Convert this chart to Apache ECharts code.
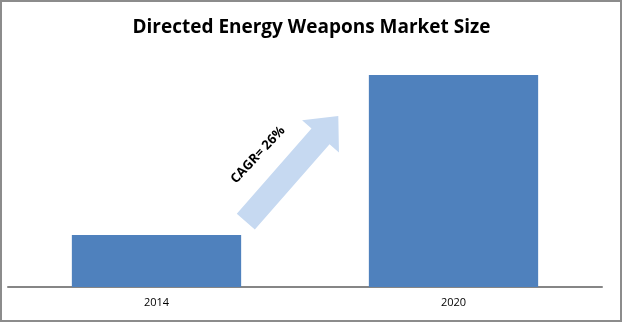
<!DOCTYPE html>
<html><head><meta charset="utf-8">
<script src="https://cdn.jsdelivr.net/npm/echarts@6/dist/echarts.min.js"></script>
<style>html,body{margin:0;padding:0;background:#fff}#c{width:623px;height:323px}</style>
</head><body><div id="c"></div>
<script>
var categories = ['2014', '2020'];
var marketSize = [52, 212];
var titleText = 'Directed Energy Weapons Market Size';
var cagrText = 'CAGR= 26%';

var chart = echarts.init(document.getElementById('c'), null, {renderer: 'canvas'});

// arrow geometry (decoration)
function arrowPoints(tail, tip, shaftW, headW, headL) {
  var dx = tip[0] - tail[0], dy = tip[1] - tail[1];
  var L = Math.sqrt(dx*dx + dy*dy);
  var ux = dx / L, uy = dy / L, nx = -uy, ny = ux;
  var hb = [tip[0] - ux*headL, tip[1] - uy*headL];
  function p(b, w) { return [b[0] + nx*w, b[1] + ny*w]; }
  return [p(tail, shaftW/2), p(hb, shaftW/2), p(hb, headW/2), tip, p(hb, -headW/2), p(hb, -shaftW/2), p(tail, -shaftW/2)];
}

chart.setOption({
  animation: false,
  title: {
    text: titleText, left: 'center', top: 13,
    textStyle: {fontFamily: 'Open Sans', fontSize: 19, fontWeight: 'bold', color: '#000'}
  },
  grid: {left: 8, right: 21, top: 75, bottom: 36, containLabel: false},
  xAxis: {
    type: 'category', data: categories,
    axisLine: {lineStyle: {color: '#868686', width: 2}},
    axisTick: {show: false},
    axisLabel: {color: '#000', fontSize: 11, fontFamily: 'Open Sans', margin: 10}
  },
  yAxis: {type: 'value', min: 0, max: 'dataMax', show: false, splitLine: {show: false}},
  series: [{
    type: 'bar', data: marketSize, barWidth: '57%',
    itemStyle: {color: '#4f81bd'}
  }],
  graphic: [
    {type: 'rect', shape: {x: 1, y: 1, width: 620, height: 320},
     style: {fill: 'none', stroke: '#8c8c8c', lineWidth: 2}, z: 100},
    {type: 'polygon', shape: {points: arrowPoints([245.8, 221.7], [338.3, 116], 24, 49, 27)},
     style: {fill: '#c6d9f1'}, z: 5},
    {type: 'text', x: 258, y: 155, rotation: 47 * Math.PI / 180,
     style: {text: cagrText, fontFamily: 'Open Sans', fontWeight: 'bold', fontSize: 13,
             fill: '#000', align: 'center', verticalAlign: 'middle'}, z: 6}
  ]
});
</script></body></html>
